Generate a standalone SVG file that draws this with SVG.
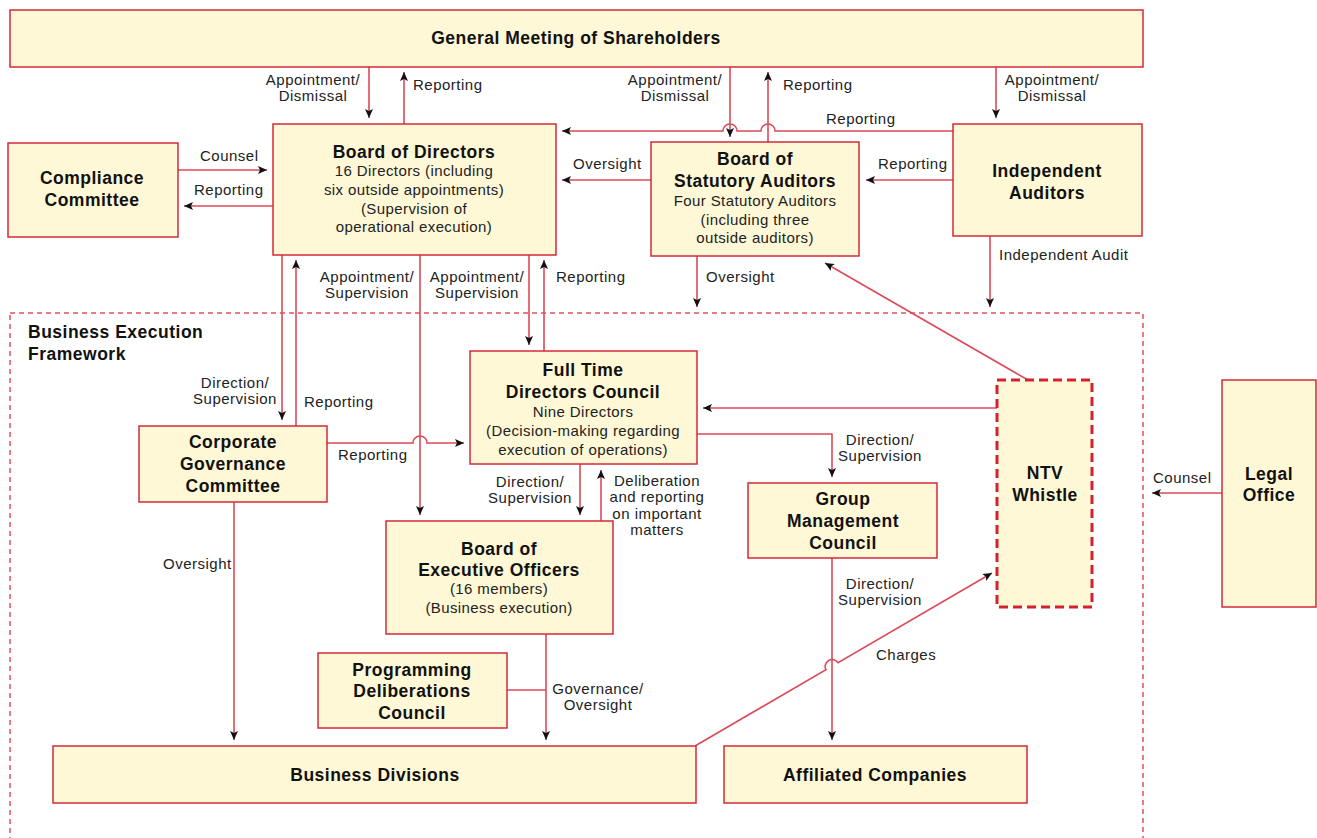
<svg xmlns="http://www.w3.org/2000/svg" width="1317" height="838" viewBox="0 0 1317 838">
<style>
.box{fill:#fef8d6;stroke:#d42a3a;stroke-width:1.5}
.dbox{fill:#fef8d6;stroke:#d42030;stroke-width:3;stroke-dasharray:9 5}
.frame{fill:none;stroke:#e05060;stroke-width:1.5;stroke-dasharray:5 4}
.ln{fill:none;stroke:#dc4a58;stroke-width:1.6}
.t{font-family:"Liberation Sans",Arial,sans-serif;font-size:17.5px;letter-spacing:0.5px;font-weight:bold;fill:#111;text-anchor:middle}
.s{font-family:"Liberation Sans",Arial,sans-serif;font-size:15px;letter-spacing:0.4px;fill:#222;text-anchor:middle}
.l{font-family:"Liberation Sans",Arial,sans-serif;font-size:15px;letter-spacing:0.5px;fill:#222}
.m{text-anchor:middle}
</style>
<defs>
<marker id="ah" markerWidth="10" markerHeight="8" refX="9" refY="4" orient="auto" markerUnits="userSpaceOnUse">
<path d="M0,0 L9,4 L0,8 L2,4 z" fill="#111"/>
</marker>
</defs>
<rect width="1317" height="838" fill="#fff"/>
<rect class="frame" x="10" y="313" width="1133" height="540"/>
<text class="t" x="28" y="338" style="text-anchor:start">Business Execution</text>
<text class="t" x="28" y="360" style="text-anchor:start">Framework</text>

<g id="connectors">
<path class="ln" d="M369,67 V118" marker-end="url(#ah)"/>
<path class="ln" d="M404,124 V72" marker-end="url(#ah)"/>
<path class="ln" d="M730,67 V137" marker-end="url(#ah)"/>
<path class="ln" d="M768,142 V72" marker-end="url(#ah)"/>
<path class="ln" d="M996,67 V118" marker-end="url(#ah)"/>
<path class="ln" d="M953,131 H775 A7,7 0 0 0 761,131 H737 A7,7 0 0 0 723,131 H562" marker-end="url(#ah)"/>
<path class="ln" d="M651,180 H562" marker-end="url(#ah)"/>
<path class="ln" d="M953,180 H866" marker-end="url(#ah)"/>
<path class="ln" d="M178,170 H267" marker-end="url(#ah)"/>
<path class="ln" d="M273,206 H184" marker-end="url(#ah)"/>
<path class="ln" d="M697,256 V307" marker-end="url(#ah)"/>
<path class="ln" d="M990,236 V307" marker-end="url(#ah)"/>
<path class="ln" d="M282,255 V420" marker-end="url(#ah)"/>
<path class="ln" d="M296,426 V260" marker-end="url(#ah)"/>
<path class="ln" d="M420,255 V515" marker-end="url(#ah)"/>
<path class="ln" d="M529,255 V345" marker-end="url(#ah)"/>
<path class="ln" d="M544,351 V260" marker-end="url(#ah)"/>
<path class="ln" d="M327,443 H413 A7,7 0 0 1 427,443 H464" marker-end="url(#ah)"/>
<path class="ln" d="M997,408 H703" marker-end="url(#ah)"/>
<path class="ln" d="M1028,380 L825,263" marker-end="url(#ah)"/>
<path class="ln" d="M697,434 H832 V477" marker-end="url(#ah)"/>
<path class="ln" d="M580,464 V515" marker-end="url(#ah)"/>
<path class="ln" d="M601,521 V470" marker-end="url(#ah)"/>
<path class="ln" d="M234,502 V740" marker-end="url(#ah)"/>
<path class="ln" d="M546,634 V740" marker-end="url(#ah)"/>
<path class="ln" d="M507,690 H546"/>
<path class="ln" d="M832,558 V740" marker-end="url(#ah)"/>
<path class="ln" d="M695,746 L825.95,669.7 A7,7 0 0 1 838.05,662.7 L992,573" marker-end="url(#ah)"/>
<path class="ln" d="M1222,493 H1152" marker-end="url(#ah)"/>
</g>

<g id="labels">
<text class="l m" x="313" y="85">Appointment/</text>
<text class="l m" x="313" y="101">Dismissal</text>
<text class="l" x="413" y="90">Reporting</text>
<text class="l m" x="675" y="85">Appointment/</text>
<text class="l m" x="675" y="101">Dismissal</text>
<text class="l" x="783" y="90">Reporting</text>
<text class="l m" x="1052" y="85">Appointment/</text>
<text class="l m" x="1052" y="101">Dismissal</text>
<text class="l" x="826" y="124">Reporting</text>
<text class="l" x="573" y="169">Oversight</text>
<text class="l" x="878" y="169">Reporting</text>
<text class="l" x="200" y="161">Counsel</text>
<text class="l" x="194" y="195">Reporting</text>
<text class="l" x="706" y="282">Oversight</text>
<text class="l" x="999" y="260">Independent Audit</text>
<text class="l m" x="367" y="282">Appointment/</text>
<text class="l m" x="367" y="298">Supervision</text>
<text class="l m" x="477" y="282">Appointment/</text>
<text class="l m" x="477" y="298">Supervision</text>
<text class="l" x="556" y="282">Reporting</text>
<text class="l m" x="235" y="388">Direction/</text>
<text class="l m" x="235" y="404">Supervision</text>
<text class="l" x="304" y="407">Reporting</text>
<text class="l" x="338" y="460">Reporting</text>
<text class="l m" x="880" y="445">Direction/</text>
<text class="l m" x="880" y="461">Supervision</text>
<text class="l m" x="530" y="487">Direction/</text>
<text class="l m" x="530" y="503">Supervision</text>
<text class="l m" x="657" y="486">Deliberation</text>
<text class="l m" x="657" y="502">and reporting</text>
<text class="l m" x="657" y="519">on important</text>
<text class="l m" x="657" y="535">matters</text>
<text class="l" x="163" y="569">Oversight</text>
<text class="l m" x="598" y="694">Governance/</text>
<text class="l m" x="598" y="710">Oversight</text>
<text class="l m" x="880" y="589">Direction/</text>
<text class="l m" x="880" y="605">Supervision</text>
<text class="l" x="876" y="660">Charges</text>
<text class="l" x="1153" y="483">Counsel</text>
</g>

<g id="general-meeting">
<rect class="box" x="10" y="10" width="1133" height="57"/>
<text class="t" x="576" y="44">General Meeting of Shareholders</text>
</g>
<g id="board-of-directors">
<rect class="box" x="273" y="124" width="283" height="131"/>
<text class="t" x="414" y="158">Board of Directors</text>
<text class="s" x="414" y="176">16 Directors (including</text>
<text class="s" x="414" y="195">six outside appointments)</text>
<text class="s" x="414" y="214">(Supervision of</text>
<text class="s" x="414" y="232">operational execution)</text>
</g>
<g id="compliance-committee">
<rect class="box" x="8" y="143" width="170" height="94"/>
<text class="t" x="92" y="184">Compliance</text>
<text class="t" x="92" y="206">Committee</text>
</g>
<g id="board-of-statutory-auditors">
<rect class="box" x="651" y="142" width="208" height="114"/>
<text class="t" x="755" y="165">Board of</text>
<text class="t" x="755" y="187">Statutory Auditors</text>
<text class="s" x="755" y="206">Four Statutory Auditors</text>
<text class="s" x="755" y="225">(including three</text>
<text class="s" x="755" y="243">outside auditors)</text>
</g>
<g id="independent-auditors">
<rect class="box" x="953" y="124" width="189" height="112"/>
<text class="t" x="1047" y="177">Independent</text>
<text class="t" x="1047" y="199">Auditors</text>
</g>
<g id="full-time-directors-council">
<rect class="box" x="470" y="351" width="227" height="113"/>
<text class="t" x="583" y="376">Full Time</text>
<text class="t" x="583" y="398">Directors Council</text>
<text class="s" x="583" y="417">Nine Directors</text>
<text class="s" x="583" y="436">(Decision-making regarding</text>
<text class="s" x="583" y="455">execution of operations)</text>
</g>
<g id="corporate-governance-committee">
<rect class="box" x="139" y="426" width="188" height="76"/>
<text class="t" x="233" y="448">Corporate</text>
<text class="t" x="233" y="470">Governance</text>
<text class="t" x="233" y="492">Committee</text>
</g>
<g id="board-of-executive-officers">
<rect class="box" x="386" y="521" width="227" height="113"/>
<text class="t" x="499" y="555">Board of</text>
<text class="t" x="499" y="576">Executive Officers</text>
<text class="s" x="499" y="594">(16 members)</text>
<text class="s" x="499" y="613">(Business execution)</text>
</g>
<g id="group-management-council">
<rect class="box" x="748" y="483" width="189" height="75"/>
<text class="t" x="843" y="505">Group</text>
<text class="t" x="843" y="527">Management</text>
<text class="t" x="843" y="549">Council</text>
</g>
<g id="ntv-whistle">
<rect class="dbox" x="997" y="380" width="95" height="227"/>
<text class="t" x="1045" y="479">NTV</text>
<text class="t" x="1045" y="501">Whistle</text>
</g>
<g id="legal-office">
<rect class="box" x="1222" y="380" width="94" height="227"/>
<text class="t" x="1269" y="480">Legal</text>
<text class="t" x="1269" y="501">Office</text>
</g>
<g id="programming-deliberations-council">
<rect class="box" x="318" y="653" width="189" height="75"/>
<text class="t" x="412" y="676">Programming</text>
<text class="t" x="412" y="697">Deliberations</text>
<text class="t" x="412" y="719">Council</text>
</g>
<g id="business-divisions">
<rect class="box" x="53" y="746" width="643" height="57"/>
<text class="t" x="375" y="781">Business Divisions</text>
</g>
<g id="affiliated-companies">
<rect class="box" x="724" y="746" width="303" height="57"/>
<text class="t" x="875" y="781">Affiliated Companies</text>
</g>
</svg>
